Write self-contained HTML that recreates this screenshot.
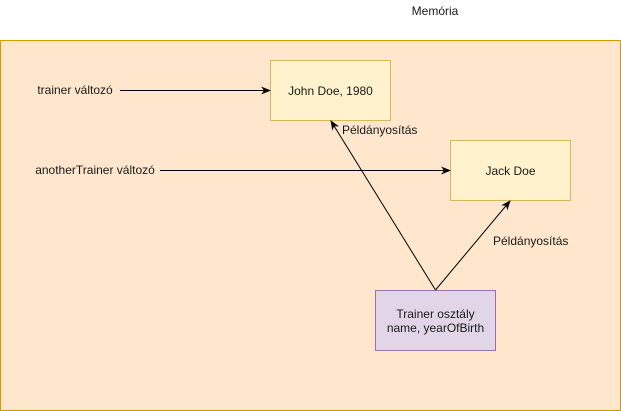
<!DOCTYPE html>
<html><head><meta charset="utf-8"><style>
html,body{margin:0;padding:0;background:#fff;}
svg{display:block;}
text{font-family:"Liberation Sans",Helvetica,Arial,sans-serif;font-size:12px;fill:#1a1a1a;}
</style></head><body>
<svg width="621" height="411" viewBox="0 0 621 411" xmlns="http://www.w3.org/2000/svg">
<defs>
<marker id="a" markerWidth="10" markerHeight="10" refX="9" refY="5" orient="auto" markerUnits="userSpaceOnUse">
<path d="M0,1 L10,5 L0,9 L3,5 Z" fill="#000"/>
</marker>
</defs>
<text x="435" y="15" text-anchor="middle">Memória</text>
<rect x="0.5" y="40.5" width="620" height="370" fill="#ffe6cc" stroke="#d79b00"/>
<rect x="270.5" y="60.5" width="120" height="60" fill="#fff2cc" stroke="#d6b656"/>
<text x="330.5" y="95" text-anchor="middle">John Doe, 1980</text>
<rect x="450.5" y="140.5" width="120" height="60" fill="#fff2cc" stroke="#d6b656"/>
<text x="510.5" y="175" text-anchor="middle">Jack Doe</text>
<rect x="375.5" y="290.5" width="120" height="60" fill="#e1d5e7" stroke="#9673a6"/>
<text x="435.5" y="318" text-anchor="middle">Trainer osztály</text>
<text x="435.5" y="332" text-anchor="middle">name, yearOfBirth</text>
<text x="75" y="94" text-anchor="middle">trainer változó</text>
<text x="95" y="174" text-anchor="middle">anotherTrainer változó</text>
<line x1="120" y1="90.5" x2="270" y2="90.5" stroke="#000" marker-end="url(#a)"/>
<line x1="160" y1="170.5" x2="450" y2="170.5" stroke="#000" marker-end="url(#a)"/>
<line x1="435.5" y1="290" x2="331" y2="121" stroke="#000" marker-end="url(#a)"/>
<line x1="435.5" y1="290" x2="510" y2="201" stroke="#000" marker-end="url(#a)"/>
<text x="342" y="134">Példányosítás</text>
<text x="493" y="245">Példányosítás</text>
</svg>
</body></html>
